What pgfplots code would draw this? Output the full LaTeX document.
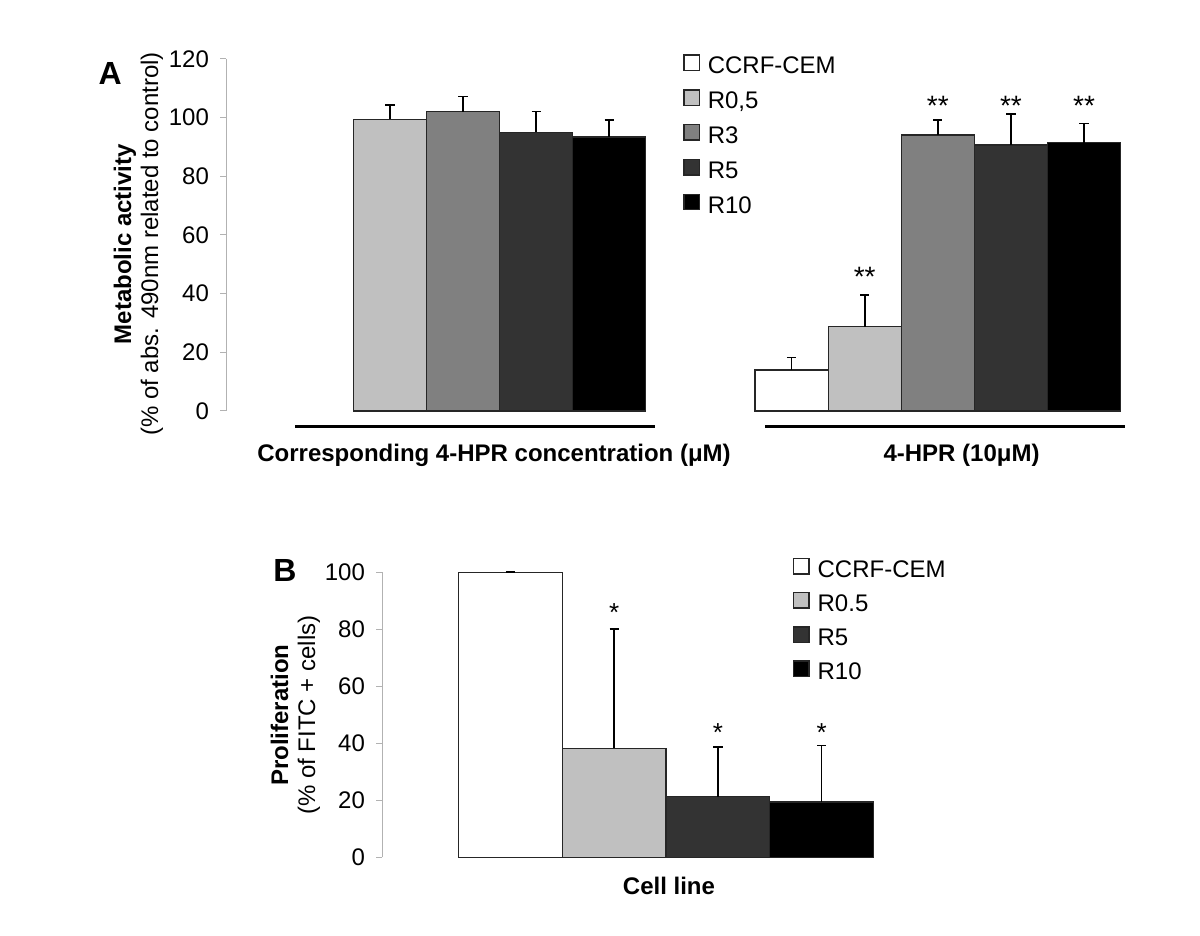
\documentclass[border=0pt]{standalone}
\usepackage{fontspec}
\setmainfont{Liberation Sans}
\usepackage{pgfplots}
\pgfplotsset{compat=1.18}
\definecolor{cR05}{HTML}{C0C0C0}
\definecolor{cR3}{HTML}{808080}
\definecolor{cR5}{HTML}{333333}
\definecolor{cR10}{HTML}{000000}
\newcommand{\tw}{\fontsize{12}{13.5}\selectfont}
\pgfplotsset{
  mybar/.style={ybar, bar shift=0pt, draw=black!85, line width=0.6pt, fill=#1,
    legend image code/.code={\draw[##1, line width=0.6pt] (0pt,-1.6pt) rectangle (7.6pt,6pt);},
    error bars/y dir=plus, error bars/y explicit,
    error bars/error bar style={black, line width=0.85pt},
    error bars/error mark options={black, rotate=90, mark size=2.3pt, line width=0.85pt}},
  common/.style={scale only axis, anchor=south west, clip=false,
    axis y line=left, axis x line=none, enlargelimits=false,
    axis line style={-, gray!60, line width=0.5pt},
    major tick style={gray!60, line width=0.5pt},
    tick align=outside, major tick length=3pt,
    /pgf/number format/assume math mode=true,
    yticklabel style={font=\tw, xshift=-2pt},
    legend cell align=left},
}
\begin{document}
\begin{tikzpicture}
\path[use as bounding box] (0,0) rectangle (600pt,468pt);
% ---------------- Panel A ----------------
\begin{axis}[common,
  at={(113pt,262.5pt)}, width=452pt, height=176pt,
  xmin=-0.4992, xmax=1.4048, ymin=0, ymax=120,
  ytick={0,20,...,120},
  bar width=0.154,
  every axis y label/.style={at={(axis description cs:-0.0968,0.4744)}, rotate=90, anchor=center, align=center, font=\tw},
  ylabel={\textbf{Metabolic activity}\\(\% of abs. 490nm related to control)},
  legend style={at={(axis description cs:0.5055,1.014)}, anchor=north west, draw=none, fill=none,
    font=\tw, row sep=5.9pt, column sep=4pt, inner sep=0pt,
    nodes={inner sep=0pt, text height=8.6pt, text depth=1.9pt}},
]
% group 0 = corresponding 4-HPR concentration, group 1 = 4-HPR (10 uM); bars offset by 0.154 within a group
\addplot[mybar=white] coordinates {(0.692,14.0) +- (0,4.2)};
\addlegendentry{CCRF-CEM}
\addplot[mybar=cR05] coordinates {(-0.154,99.5) +- (0,4.9) (0.846,28.7) +- (0,10.8)};
\addlegendentry{R0,5}
\addplot[mybar=cR3] coordinates {(0,102.0) +- (0,5.2) (1,94.1) +- (0,5.0)};
\addlegendentry{R3}
\addplot[mybar=cR5] coordinates {(0.154,95.0) +- (0,7.1) (1.154,90.7) +- (0,10.6)};
\addlegendentry{R5}
\addplot[mybar=cR10] coordinates {(0.308,93.4) +- (0,5.7) (1.308,91.4) +- (0,6.6)};
\addlegendentry{R10}
% significance stars
\addplot[forget plot, draw=none, mark=none, nodes near coords={**},
  nodes near coords style={anchor=base, inner sep=0pt, font=\fontsize{14}{14}\selectfont}]
  coordinates {(0.846,42.6) (1,100.6) (1.154,100.6) (1.308,100.6)};
\draw[line width=1.5pt] (axis cs:-0.3538,-5.35) -- (axis cs:0.4044,-5.35);
\draw[line width=1.5pt] (axis cs:0.6361,-5.35) -- (axis cs:1.3943,-5.35);
\node[anchor=base, font=\tw\bfseries, inner sep=0pt] at (axis cs:0.0653,-17.39) {Corresponding 4-HPR concentration (μM)};
\node[anchor=base, font=\tw\bfseries, inner sep=0pt] at (axis cs:1.050,-17.39) {4-HPR (10μM)};
\node[font=\fontsize{16}{16}\selectfont\bfseries] at (axis description cs:-0.128,0.960) {A};
\end{axis}
% ---------------- Panel B ----------------
\begin{axis}[common,
  at={(191pt,39.35pt)}, width=249pt, height=142.5pt,
  xmin=-1.239, xmax=3.563, ymin=0, ymax=100,
  ytick={0,20,...,100},
  bar width=1,
  every axis y label/.style={at={(axis description cs:-0.1737,0.499)}, rotate=90, anchor=center, align=center, font=\tw},
  ylabel={\textbf{Proliferation}\\(\% of FITC + cells)},
  legend style={at={(axis description cs:0.825,1.051)}, anchor=north west, draw=none, fill=none,
    font=\tw, row sep=5.5pt, column sep=4pt, inner sep=0pt,
    nodes={inner sep=0pt, text height=8.6pt, text depth=1.9pt}},
]
\addplot[mybar=white] coordinates {(0,100) +- (0,0)};
\addlegendentry{CCRF-CEM}
\addplot[mybar=cR05] coordinates {(1,38.2) +- (0,41.9)};
\addlegendentry{R0.5}
\addplot[mybar=cR5] coordinates {(2,21.2) +- (0,17.4)};
\addlegendentry{R5}
\addplot[mybar=cR10] coordinates {(3,19.4) +- (0,19.8)};
\addlegendentry{R10}
\addplot[forget plot, draw=none, mark=none, nodes near coords={*},
  nodes near coords style={anchor=base, inner sep=0pt, font=\fontsize{13}{13}\selectfont}]
  coordinates {(1,82.9) (2,40.6) (3,40.6)};
\node[anchor=base, font=\tw\bfseries, inner sep=0pt] at (axis cs:1.528,-13.2) {Cell line};
\node[font=\fontsize{16}{16}\selectfont\bfseries] at (axis description cs:-0.195,1.008) {B};
\end{axis}
\end{tikzpicture}
\end{document}
